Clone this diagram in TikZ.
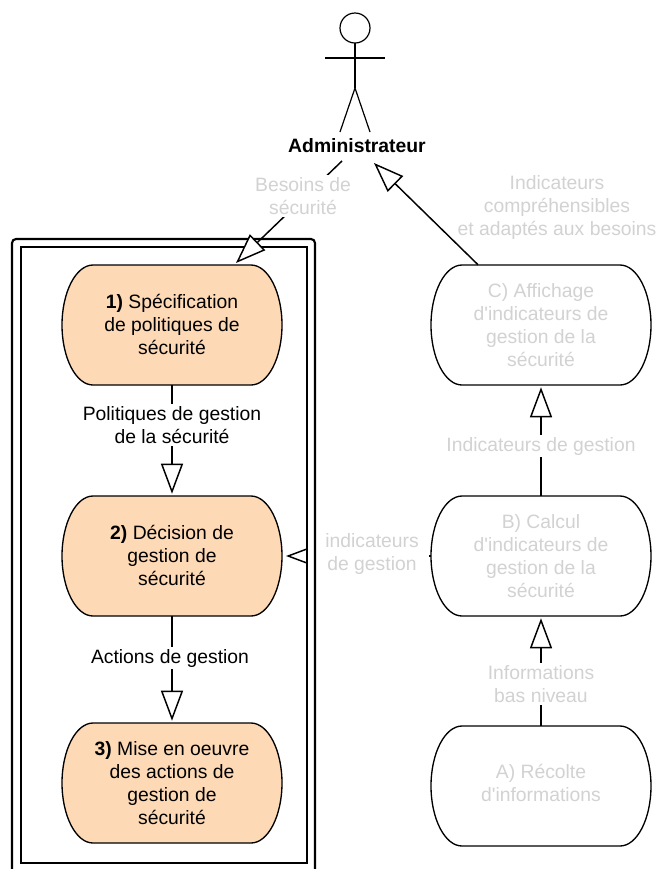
\documentclass[tikz,border=0pt]{standalone}
\usepackage{fontspec}
\setmainfont[Ligatures=TeXOff]{Liberation Sans}
\usetikzlibrary{arrows.meta}
\definecolor{peach}{HTML}{FDD9B5}
\definecolor{faint}{HTML}{D2D2D2}
\tikzset{
  x=0.75pt,y=-0.75pt,
  every node/.style={font=\fontsize{14.5}{17.25}\selectfont,align=center,inner sep=1.5pt},
  conn/.style={line width=1.1pt,draw=black},
  flow/.style={conn,-{Triangle[open,fill=white,length=22.5pt,width=16.5pt,line width=1.1pt]}},
  shapeline/.style={line width=1pt,draw=black},
  lbl/.style={fill=white},
  faintlbl/.style={fill=white,text=faint},
  boxtext/.style={},
  faintbox/.style={text=faint},
  actorline/.style={line width=0.9pt,draw=black},
}
% [#1 raise of the text], #2 name, #3 cx, #4 cy, #5 fill, #6 text style, #7 text
\newcommand{\activity}[7][-1.5pt]{%
  \path[shapeline,fill=#5]
    (#3-79,#4-60) -- (#3+79,#4-60)
    .. controls (#3+96,#4-60) and (#3+110,#4-33) .. (#3+110,#4)
    .. controls (#3+110,#4+33) and (#3+96,#4+60) .. (#3+79,#4+60)
    -- (#3-79,#4+60)
    .. controls (#3-96,#4+60) and (#3-110,#4+33) .. (#3-110,#4)
    .. controls (#3-110,#4-33) and (#3-96,#4-60) .. (#3-79,#4-60) -- cycle;
  \node[#6,minimum width=165pt,minimum height=90pt] (#2) at (#3,#4)
    {\raisebox{\dimexpr#1-3.6pt\relax}[0pt][0pt]{\begin{tabular}{@{}c@{}}#7\end{tabular}}};
}
\begin{document}
\begin{tikzpicture}
\clip (0,0) rectangle (659,869);
\fill[white] (0,0) rectangle (659,869);

% actor
\draw[actorline] (355,28) circle (15);
\draw[actorline] (355,43) -- (355,88);
\draw[actorline] (325,58) -- (385,58);
\draw[actorline] (340,132) -- (355,88) -- (370,132);
\node[font=\fontsize{14.5}{17.25}\selectfont\bfseries] (admin) at (357,146) {Administrateur};
\coordinate (adminL) at (342,161);
\coordinate (adminR) at (374,163);

% activities, right
\activity{aff}{541}{325}{white}{faintbox}{C) Affichage\\d'indicateurs de\\gestion de la\\sécurité}
\activity{calc}{541}{556}{white}{faintbox}{B) Calcul\\d'indicateurs de\\gestion de la\\sécurité}
\activity[0.75pt]{rec}{541}{786}{white}{faintbox}{A) Récolte\\d'informations}

% connector into the frame (its base is hidden by the frame)
\coordinate (frameIn) at (286,556);
\draw[flow] (calc.west) -- (frameIn);
\node[faintlbl,minimum width=85pt] (lIndG) at (372,554) {indicateurs\\de gestion};

% frame
\fill[white,even odd rule] (12,239) rectangle (315,880) (21,247) rectangle (307,863);
\draw[line width=1.6pt,rounded corners=3pt] (12,239) rectangle (315,880);
\draw[line width=2.1pt] (21,247) rectangle (307,863);

% activities, left
\activity{spec}{172}{325}{peach}{boxtext}{\textbf{1)} Spécification\\de politiques de\\sécurité}
\activity{dec}{172}{556}{peach}{boxtext}{\textbf{2)} Décision de\\gestion de\\sécurité}
\activity{mise}{172}{783}{peach}{boxtext}{\textbf{3)} Mise en oeuvre\\des actions de\\gestion de\\sécurité}

% connectors
\coordinate (specTip) at (236,263);
\draw[flow] (adminL) -- (specTip);
\node[faintlbl] (lBes) at (303,196) {Besoins de\\sécurité};

\draw[flow] (aff.north -| 478,265) -- (adminR);
\node[faintlbl] (lComp) at (557,207) {Indicateurs\\compréhensibles\\et adaptés aux besoins};

\draw[flow] (spec.south) -- ([yshift=1.5pt]dec.north);
\node[lbl] (lPol) at (172,425) {Politiques de gestion\\de la sécurité};

\draw[flow] (dec.south) -- ([yshift=1.5pt]mise.north);
\node[lbl] (lAct) at (170,658) {Actions de gestion};

\draw[flow] (calc.north) -- ([yshift=-1.5pt]aff.south);
\node[faintlbl] (lIG) at (541,446) {Indicateurs de gestion};

\draw[flow] (rec.north) -- ([yshift=-1.5pt]calc.south);
\node[faintlbl] (lInf) at (541,684) {Informations\\bas niveau};
\end{tikzpicture}
\end{document}
